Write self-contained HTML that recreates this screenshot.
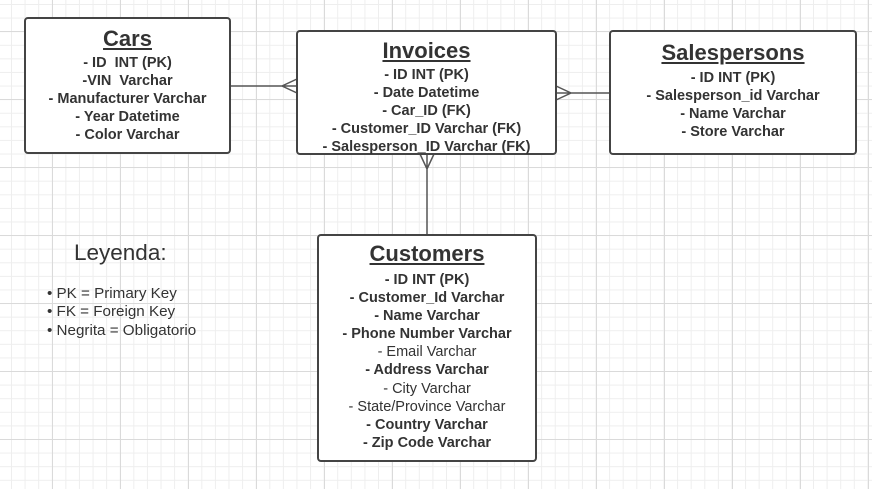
<!DOCTYPE html>
<html><head><meta charset="utf-8"><style>
body{margin:0;width:872px;height:489px;overflow:hidden;font-family:"Liberation Sans",sans-serif;color:#333;
background-color:#fff;
background-image:linear-gradient(#dadada 1px,transparent 1px),linear-gradient(90deg,#dadada 1px,transparent 1px),linear-gradient(#eeeeee 1px,transparent 1px),linear-gradient(90deg,#eeeeee 1px,transparent 1px);
background-size:68px 68px,68px 68px,13.6px 13.6px,13.6px 13.6px;
background-position:0 31px,52px 0,0 4px,11px 0;}
.box{position:absolute;box-sizing:border-box;border:2px solid #444;border-radius:4px;background:#fff;text-align:center;font-weight:bold;font-size:14.5px;line-height:18.1px}
.box h{display:block;font-size:22px;text-decoration:underline;line-height:26px}
.n{font-weight:normal}
svg{position:absolute;left:0;top:0}
</style></head><body>
<svg width="872" height="489"><g stroke="#555" stroke-width="1.5" fill="none">
<path d="M230 86H297M297 79L282 86L297 93"/>
<path d="M556 93H610M556 86L571 93L556 100"/>
<path d="M427 154V235M420 154L427 169L434 154"/>
</g></svg>
<div class="box" style="left:24px;top:17px;width:207px;height:137px"><h style="margin-top:7px;margin-bottom:2px">Cars</h>- ID&nbsp; INT (PK)<br>-VIN&nbsp; Varchar<br>- Manufacturer Varchar<br>- Year Datetime<br>- Color Varchar</div>
<div class="box" style="left:296px;top:30px;width:261px;height:125px;line-height:18px"><h style="margin-top:6px;margin-bottom:2px">Invoices</h>- ID INT (PK)<br>- Date Datetime<br>- Car_ID (FK)<br>- Customer_ID Varchar (FK)<br>- Salesperson_ID Varchar (FK)</div>
<div class="box" style="left:609px;top:30px;width:248px;height:125px"><h style="margin-top:8px;margin-bottom:3px">Salespersons</h>- ID INT (PK)<br>- Salesperson_id Varchar<br>- Name Varchar<br>- Store Varchar</div>
<div class="box" style="left:317px;top:234px;width:220px;height:228px"><h style="margin-top:5px;margin-bottom:4px">Customers</h>- ID INT (PK)<br>- Customer_Id Varchar<br>- Name Varchar<br>- Phone Number Varchar<br><span class="n">- Email Varchar</span><br>- Address Varchar<br><span class="n">- City Varchar</span><br><span class="n">- State/Province Varchar</span><br>- Country Varchar<br>- Zip Code Varchar</div>
<div style="position:absolute;left:74px;top:240px;font-size:22.5px">Leyenda:</div>
<div style="position:absolute;left:47px;top:285px;font-size:15.2px;line-height:18.3px">• PK = Primary Key<br>• FK = Foreign Key<br>• Negrita = Obligatorio</div>
</body></html>
